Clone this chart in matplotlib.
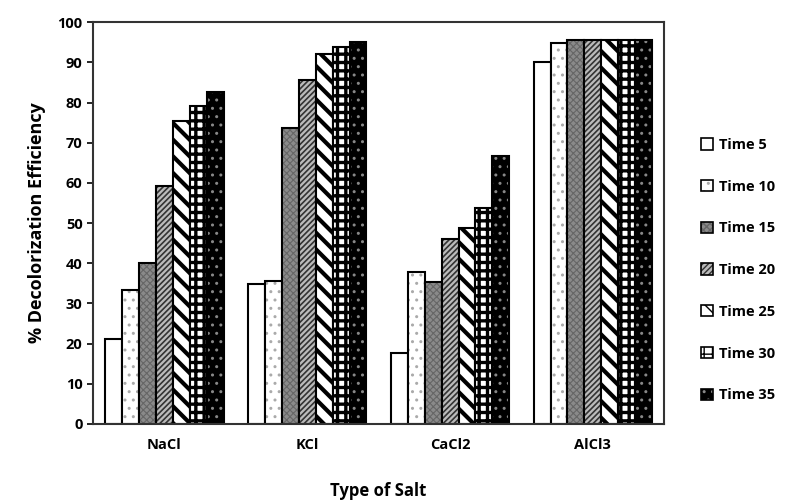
import matplotlib
matplotlib.use('Agg')
import matplotlib.pyplot as plt
import numpy as np

salts = ['NaCl', 'KCl', 'CaCl2', 'AlCl3']
times = ['Time 5', 'Time 10', 'Time 15', 'Time 20', 'Time 25', 'Time 30', 'Time 35']

# % decolorization for each time, one value per salt
time5 = [21.1, 34.7, 17.6, 90.1]
time10 = [33.3, 35.6, 37.9, 94.9]
time15 = [40.0, 73.7, 35.4, 95.6]
time20 = [59.3, 85.6, 46.0, 95.6]
time25 = [75.4, 92.0, 48.7, 95.6]
time30 = [79.1, 93.9, 53.7, 95.6]
time35 = [82.5, 95.0, 66.7, 95.6]
series = [time5, time10, time15, time20, time25, time30, time35]

# face colour, hatch, hatch colour, hatch line width
styles = [
    ('white', '', 'black', 1.0),
    ('white', '..', '#aaaaaa', 1.0),
    ('#8a8a8a', 'xxxxx', '#666666', 0.8),
    ('#bbbbbb', '//////', '#333333', 1.2),
    ('white', '\\\\', 'black', 3.0),
    ('white', '++', 'black', 2.4),
    ('black', '..', '#888888', 1.0),
]

plt.rcParams['font.family'] = ['Open Sans', 'DejaVu Sans']
plt.rcParams['font.weight'] = 'bold'

fig = plt.figure(figsize=(7.88, 5.04), dpi=100)
ax = fig.add_axes([0.118, 0.159, 0.725, 0.797])

x = np.arange(len(salts))
w = 0.83 / 7
handles = []
for i, (vals, (fc, hatch, hc, hlw)) in enumerate(zip(series, styles)):
    plt.rcParams['hatch.linewidth'] = hlw
    pos = x - 0.415 + w * (i + 0.5)
    ax.bar(pos, vals, w, color=fc, edgecolor=hc, hatch=hatch, linewidth=0)
    ax.bar(pos, vals, w, fill=False, edgecolor='black', linewidth=1.5)
    fill = plt.Rectangle((0, 0), 1, 1, facecolor=fc, edgecolor=hc, hatch=hatch, linewidth=0)
    edge = plt.Rectangle((0, 0), 1, 1, fill=False, edgecolor='black', linewidth=1.2)
    handles.append((fill, edge))

ax.set_xlim(-0.5, 3.5)
ax.set_ylim(0, 100)
ax.set_yticks(range(0, 101, 10))
ax.set_xticks(x)
ax.set_xticklabels(salts, fontsize=10.5, fontweight='bold')
ax.tick_params(axis='x', length=0, pad=10)
ax.tick_params(axis='y', length=4, width=1.2, labelsize=10.5, direction='out')
for lab in ax.get_yticklabels():
    lab.set_fontweight('bold')
for s in ax.spines.values():
    s.set_linewidth(1.5)
    s.set_color('#333333')

ax.set_ylabel('% Decolorization Efficiency', fontsize=13, fontweight='bold', labelpad=8)
ax.set_xlabel('Type of Salt', fontsize=12, fontweight='bold', labelpad=22)

leg = fig.legend(handles, times, loc='center left', bbox_to_anchor=(0.873, 0.464),
                 frameon=False, fontsize=10.5, labelspacing=1.9, handlelength=0.8,
                 handleheight=0.8, handletextpad=0.4)
for t in leg.get_texts():
    t.set_fontweight('bold')

plt.savefig('out.png', dpi=100)
